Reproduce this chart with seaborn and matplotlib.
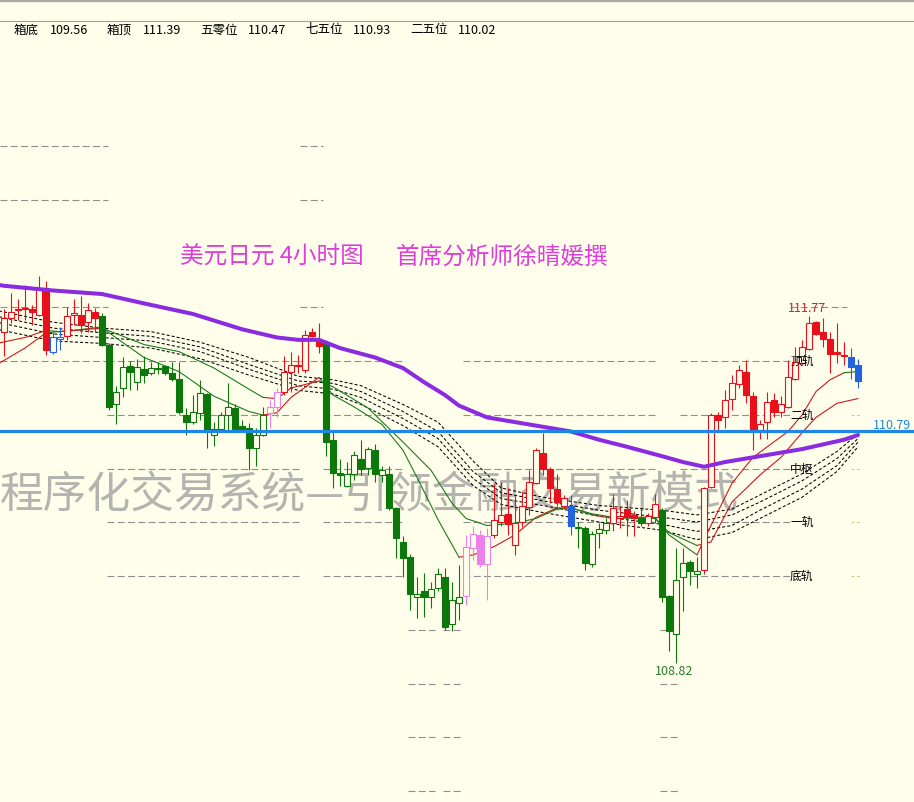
import matplotlib
matplotlib.use("Agg")
import matplotlib.pyplot as plt
import seaborn as sns
import pandas as pd

# USD/JPY 4H candles, left to right
opens = [111.64, 111.76, 111.83, 111.84, 111.83, 111.78, 111.99, 111.47, 111.58, 111.60,
         111.78, 111.78, 111.72, 111.81, 111.77, 111.53, 111.02, 111.16, 111.35, 111.21,
         111.32, 111.29, 111.32, 111.35, 111.29, 111.24, 110.93, 110.87, 110.95, 111.11,
         110.76, 110.81, 110.93, 110.99, 110.84, 110.82, 110.65, 110.76, 110.95, 111.00,
         111.13, 111.30, 111.35, 111.31, 111.64, 111.57, 111.54, 110.72, 110.44, 110.33,
         110.43, 110.56, 110.48, 110.63, 110.42, 110.43, 110.14, 109.85, 109.72, 109.38,
         109.43, 109.38, 109.46, 109.55, 109.15, 109.33, 109.39, 109.80, 109.91, 109.66,
         109.91, 110.02, 110.09, 109.82, 110.02, 110.15, 110.35, 110.61, 110.47, 110.30,
         110.16, 110.16, 109.97, 109.97, 109.66, 109.93, 109.95, 110.01, 110.05, 110.13,
         110.08, 110.05, 110.01, 110.06, 110.12, 109.39, 109.07, 109.55, 109.68, 109.58,
         109.61, 110.32, 110.93, 110.91, 111.07, 111.19, 111.30, 111.09, 110.80, 110.87,
         111.06, 110.96, 111.00, 111.24, 111.37, 111.49, 111.72, 111.64, 111.58, 111.47,
         111.44, 111.42, 111.36]
highs = [111.83, 111.97, 111.92, 112.04, 111.87, 112.11, 112.07, 111.64, 111.68, 111.85,
         111.92, 111.94, 111.88, 111.84, 111.80, 111.54, 111.18, 111.42, 111.39, 111.41,
         111.43, 111.38, 111.38, 111.36, 111.38, 111.38, 110.99, 111.10, 111.23, 111.12,
         110.87, 110.96, 111.20, 111.02, 110.89, 110.86, 110.82, 111.00, 111.06, 111.16,
         111.43, 111.47, 111.44, 111.65, 111.67, 111.71, 111.57, 110.80, 110.56, 110.53,
         110.62, 110.72, 110.66, 110.68, 110.50, 110.50, 110.15, 109.90, 109.75, 109.55,
         109.59, 109.51, 109.63, 109.63, 109.51, 109.65, 109.91, 109.99, 109.95, 109.97,
         110.34, 110.36, 110.31, 110.24, 110.28, 110.46, 110.65, 110.78, 110.49, 110.43,
         110.25, 110.25, 110.02, 109.99, 109.94, 110.01, 110.05, 110.26, 110.16, 110.21,
         110.11, 110.13, 110.10, 110.26, 110.14, 109.40, 109.80, 109.80, 109.70, 109.72,
         110.32, 110.95, 110.96, 111.14, 111.27, 111.36, 111.40, 111.13, 110.89, 111.13,
         111.12, 111.09, 111.40, 111.51, 111.57, 111.77, 111.73, 111.76, 111.64, 111.71,
         111.55, 111.50, 111.41]
lows = [111.43, 111.71, 111.74, 111.74, 111.70, 111.77, 111.44, 111.45, 111.48, 111.57,
        111.70, 111.63, 111.64, 111.64, 111.52, 110.97, 110.85, 111.08, 111.14, 111.14,
        111.20, 111.27, 111.28, 111.27, 111.22, 110.94, 110.76, 110.85, 110.89, 110.65,
        110.67, 110.80, 110.80, 110.79, 110.79, 110.46, 110.50, 110.75, 110.82, 110.91,
        111.10, 111.13, 111.29, 111.29, 111.59, 111.46, 110.58, 110.31, 110.33, 110.32,
        110.38, 110.42, 110.42, 110.36, 110.36, 110.12, 109.71, 109.55, 109.27, 109.20,
        109.21, 109.29, 109.43, 109.10, 109.09, 109.19, 109.31, 109.70, 109.64, 109.36,
        109.88, 109.99, 109.91, 109.74, 109.98, 110.08, 110.34, 110.42, 110.18, 110.16,
        110.13, 109.91, 109.80, 109.61, 109.64, 109.80, 109.92, 109.94, 109.97, 109.90,
        109.90, 109.99, 109.99, 110.01, 109.34, 108.92, 108.82, 109.26, 109.48, 109.46,
        109.58, 110.31, 110.80, 110.82, 110.97, 111.16, 111.03, 110.63, 110.73, 110.73,
        110.91, 110.91, 110.99, 111.23, 111.36, 111.48, 111.61, 111.51, 111.29, 111.37,
        111.36, 111.24, 111.16]
closes = [111.76, 111.81, 111.82, 111.83, 111.81, 112.01, 111.48, 111.59, 111.59, 111.77,
          111.80, 111.70, 111.82, 111.76, 111.53, 111.00, 111.13, 111.34, 111.30, 111.34,
          111.27, 111.33, 111.33, 111.29, 111.24, 110.96, 110.87, 110.96, 111.12, 110.80,
          110.81, 110.93, 111.00, 110.80, 110.81, 110.65, 110.76, 110.93, 111.00, 111.13,
          111.30, 111.36, 111.36, 111.61, 111.60, 111.52, 110.70, 110.44, 110.42, 110.43,
          110.59, 110.47, 110.64, 110.43, 110.46, 110.14, 109.88, 109.71, 109.41, 109.41,
          109.38, 109.45, 109.58, 109.13, 109.36, 109.38, 109.81, 109.92, 109.66, 109.90,
          110.04, 110.08, 110.00, 110.01, 110.16, 110.36, 110.63, 110.47, 110.31, 110.19,
          110.22, 109.99, 109.98, 109.67, 109.92, 109.96, 110.01, 110.14, 110.07, 110.06,
          110.05, 110.01, 110.07, 110.17, 109.38, 109.09, 109.53, 109.67, 109.60, 109.60,
          110.31, 110.93, 110.89, 111.06, 111.20, 111.31, 111.10, 110.81, 110.85, 111.04,
          110.96, 111.02, 111.25, 111.38, 111.51, 111.71, 111.62, 111.58, 111.45, 111.45,
          111.43, 111.34, 111.22]
# trend state of each candle: r = up, g = down, p = turning up, b = turning down
trend = ("rrrrrrr" "bb" "rrrrr" "gggggggggggggggggggggggg" "pp" "rrrrrr"
         "gggggggggggggggggggg" "pppp" "rrrrrrrrrrr" "b" "ggggg" "rrrr" "g" "rr"
         "gggggg" "rrrrrrrrrrrrrrrrrrrrr" "bb")

# long moving average (purple)
purple_idx = [-1, 0, 7, 14, 20, 27, 34, 39, 42, 45, 48, 53, 57, 60, 63, 65, 67, 69, 72, 76,
              81, 85, 89, 94, 97, 100, 103, 107, 111, 114, 117, 120, 122]
purple_val = [112.04, 112.03, 111.99, 111.96, 111.88, 111.79, 111.66, 111.59, 111.57, 111.57,
              111.50, 111.42, 111.33, 111.21, 111.10, 111.01, 110.96, 110.91, 110.88, 110.84,
              110.79, 110.72, 110.66, 110.58, 110.53, 110.49, 110.53, 110.57, 110.61, 110.64,
              110.68, 110.72, 110.76]

# four dashed channel lines
band_idx = [-1, 7, 14, 21, 28, 35, 42, 47, 51, 57, 62, 67, 71, 77, 85, 94, 99, 104, 108, 114, 119, 122]
band1 = [111.82, 111.72, 111.67, 111.64, 111.55, 111.42, 111.26, 111.23, 111.18, 111.02, 110.87,
         110.54, 110.31, 110.23, 110.16, 110.12, 110.08, 110.13, 110.25, 110.43, 110.62, 110.77]
band2 = [111.77, 111.67, 111.63, 111.60, 111.51, 111.36, 111.22, 111.20, 111.13, 110.96, 110.79,
         110.45, 110.27, 110.20, 110.12, 110.06, 110.02, 110.08, 110.19, 110.37, 110.56, 110.73]
band3 = [111.72, 111.62, 111.59, 111.56, 111.47, 111.32, 111.18, 111.15, 111.08, 110.90, 110.73,
         110.39, 110.22, 110.16, 110.07, 110.00, 109.94, 109.99, 110.12, 110.30, 110.50, 110.70]
band4 = [111.66, 111.56, 111.54, 111.50, 111.41, 111.27, 111.14, 111.11, 111.02, 110.84, 110.66,
         110.33, 110.17, 110.10, 110.02, 109.95, 109.87, 109.93, 110.05, 110.23, 110.45, 110.66]

# fast and slow thin moving averages
fast_idx = [-1, 3, 6, 8, 10, 14, 15, 20, 25, 30, 35, 37, 39, 41, 45, 47, 50, 54, 57, 59,
            62, 65, 67, 70, 73, 76, 79, 81, 84, 87, 90, 93, 95, 99, 101, 104, 107, 112, 114, 116,
            118, 120, 122]
fast_val = [111.36, 111.50, 111.63, 111.64, 111.65, 111.68, 111.63, 111.42, 111.30, 111.09,
            110.96, 110.93, 110.95, 111.08, 111.25, 111.10, 111.00, 110.85, 110.63, 110.40,
            110.04, 109.72, 109.74, 109.81, 109.91, 110.06, 110.14, 110.14, 110.08, 110.05,
            110.06, 110.06, 109.91, 109.74, 109.99, 110.35, 110.57, 110.79, 110.93, 111.13,
            111.23, 111.29, 111.30]
slow_idx = [-1, 3, 6, 8, 10, 14, 20, 25, 30, 35, 37, 39, 41, 45, 47, 52, 57, 61, 64, 66,
            69, 73, 76, 79, 81, 84, 87, 90, 93, 95, 99, 101, 104, 108, 111, 114, 116, 119, 122]
slow_val = [111.54, 111.59, 111.65, 111.64, 111.65, 111.67, 111.53, 111.47, 111.33, 111.15,
            111.08, 111.07, 111.16, 111.22, 111.17, 110.99, 110.70, 110.46, 110.18, 110.05,
            109.99, 110.01, 110.05, 110.13, 110.14, 110.09, 110.06, 110.05, 110.05, 109.93,
            109.82, 109.85, 110.19, 110.42, 110.57, 110.78, 110.91, 111.03, 111.07]
slow_state = list("rrrgrrggggg" "rrr") + ["g"] * 17 + ["r"] * 8

# box levels
box_bottom, box_top = 109.56, 111.39
box_50, box_75, box_25 = 110.47, 110.93, 110.02
level_prices = [113.22, 112.76, 112.31, 111.85, 111.39, 110.93, 110.47, 110.02, 109.56,
                109.10, 108.645, 108.19, 107.73]
period_start = [-0.6, 14.7, 42.3, 45.6, 57.7, 62.7, 65.6, 93.7, 96.6, 112.3]
period_end = [14.9, 42.3, 45.6, 57.3, 61.6, 65.4, 93.4, 96.6, 112.3, 120.4]
period_levels = [[0, 1, 3, 4], [4, 5, 6, 7, 8], [0, 1, 3, 4], [4, 5, 6, 7, 8],
                 [9, 10, 11, 12], [9, 10, 11, 12], [4, 5, 6, 7, 8], [9, 10, 11, 12],
                 [4, 5, 6, 7, 8], [3]]
rail_names = ["顶轨", "二轨", "中枢", "一轨", "底轨"]
rail_prices = [111.39, 110.93, 110.47, 110.02, 109.56]

hline_price = 110.79
high_price, low_price = 111.77, 108.82

BG = "#fffeea"
CANDLE = {"r": "#e8101a", "g": "#0c780c", "p": "#ee80ee", "b": "#2264e0"}
MA = {"r": "#d01818", "g": "#1c7a1c"}

sns.set_theme(style="white", rc={"figure.facecolor": BG, "axes.facecolor": BG,
                                 "lines.scale_dashes": False})
plt.rcParams['font.family'] = ['Noto Sans CJK SC', 'DejaVu Sans']

W, H = 914, 802
fig = plt.figure(figsize=(W / 100, H / 100), dpi=100)
ax = fig.add_axes([0, 0, 1, 1])
ax.set_xlim(-4 / 7, 130)
ax.set_ylim(107.637, 114.462)
ax.axis('off')


def fx(px):
    return px / W


def fy(py):
    return 1 - py / H


# header bar
ax.plot([0, 1], [fy(1), fy(1)], transform=fig.transFigure, color="#a8a8a0", lw=1.6, zorder=10)
ax.plot([0, 1], [fy(21), fy(21)], transform=fig.transFigure, color="#a0a098", lw=0.8, zorder=10)
header = [("箱底", 14), (f"{box_bottom:.2f}", 50), ("箱顶", 107), (f"{box_top:.2f}", 143),
          ("五零位", 200), (f"{box_50:.2f}", 248), ("七五位", 305), (f"{box_75:.2f}", 353),
          ("二五位", 410), (f"{box_25:.2f}", 458)]
for s, px in header:
    ax.text(fx(px), fy(30), s, transform=fig.transFigure, fontsize=9, color="black",
            va="center", ha="left", zorder=10)

# box level segments
for s, e, lv in zip(period_start, period_end, period_levels):
    for k in lv:
        ax.hlines(level_prices[k], s, e, colors="#8e8e8e", linestyles=(0, (5, 2.4)), lw=0.8, zorder=1)
for p in rail_prices:
    ax.hlines(p, 121.0, 122.4, colors="#cfc878", linestyles=(0, (2, 2)), lw=0.8, zorder=1)

# watermark and title
ax.text(fx(0), fy(495), "程序化交易系统—引领金融交易新模式", transform=fig.transFigure,
        fontsize=31.5, color="#a6a6a6", alpha=0.85, va="center", ha="left", zorder=1.5)
ax.text(fx(180), fy(257), "美元日元 4小时图", transform=fig.transFigure, fontsize=17,
        color="#dd3ddd", va="center", ha="left", zorder=9)
ax.text(fx(396), fy(257), "首席分析师徐晴媛撰", transform=fig.transFigure, fontsize=17,
        color="#dd3ddd", va="center", ha="left", zorder=9)

# dashed channel
for band in (band1, band2, band3, band4):
    sns.lineplot(x=band_idx, y=band, ax=ax, color="black", lw=0.75, ls=(0, (2.2, 1.5)),
                 estimator=None, sort=False, zorder=2)


def draw_runs(idx, vals, codes, lw):
    start = 0
    for k in range(1, len(idx)):
        last = k == len(idx) - 1
        if last or codes[k + 1] != codes[k]:
            sns.lineplot(x=idx[start:k + 1], y=vals[start:k + 1], ax=ax, color=MA[codes[k]],
                         lw=lw, estimator=None, sort=False, zorder=3)
            start = k


fast_codes = ["r"] + ["r" if trend[i] in "rp" else "g" for i in fast_idx[1:]]
draw_runs(fast_idx, fast_val, fast_codes, 0.8)
draw_runs(slow_idx, slow_val, slow_state, 0.8)

# candles
df = pd.DataFrame({"open": opens, "high": highs, "low": lows, "close": closes,
                   "trend": list(trend)})
df["idx"] = range(len(df))
for code, col in CANDLE.items():
    sub = df[df["trend"] == code]
    if sub.empty:
        continue
    ax.vlines(sub["idx"], sub["low"], sub["high"], colors=col, lw=0.8, zorder=4)
    up = sub["close"] >= sub["open"]
    ax.bar(sub["idx"], (sub["close"] - sub["open"]).abs(),
           bottom=sub[["open", "close"]].min(axis=1), width=0.72,
           color=[BG if u else col for u in up], edgecolor=col, lw=0.8, zorder=5)

# long MA and horizontal level
sns.lineplot(x=purple_idx, y=purple_val, ax=ax, color="#8a2be2", lw=2.9,
             estimator=None, sort=False, zorder=6)
ax.axhline(hline_price, color="#1f86e6", lw=2.3, zorder=7)

# labels
for name, p in zip(rail_names, rail_prices):
    ax.text(112.3, p, name, fontsize=8.5, color="black", va="center", ha="left", zorder=9)
ax.text(112.0, 111.84, f"{high_price:.2f}", fontsize=9, color="#c0282f", va="center", ha="left", zorder=9)
ax.text(93.0, 108.75, f"{low_price:.2f}", fontsize=9, color="#2b7a2b", va="center", ha="left", zorder=9)
ax.text(124.1, 110.845, f"{hline_price:.2f}", fontsize=9, color="#1f86e6", va="center", ha="left", zorder=9)

fig.savefig("out.png", dpi=100, facecolor=BG)
